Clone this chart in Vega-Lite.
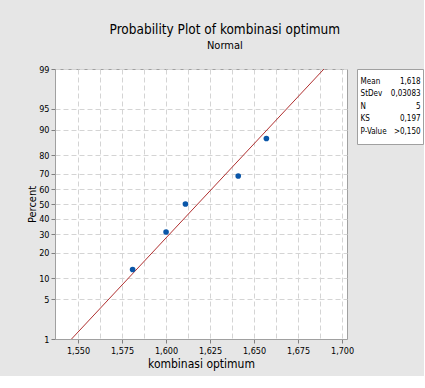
{
  "$schema": "https://vega.github.io/schema/vega-lite/v6.json",
  "background": "#e6e6e6",
  "padding": {"left": 26, "top": 23, "right": 0, "bottom": 6},
  "title": {
    "text": "Probability Plot of kombinasi optimum",
    "subtitle": "Normal",
    "font": "Liberation Sans Narrow, DejaVu Sans Condensed, sans-serif",
    "fontSize": 13.5,
    "fontWeight": "normal",
    "color": "#000000",
    "subtitleFont": "Liberation Sans Narrow, DejaVu Sans Condensed, sans-serif",
    "subtitleFontSize": 11,
    "subtitleColor": "#000000",
    "subtitlePadding": 3,
    "anchor": "middle",
    "offset": 14
  },
  "datasets": {
    "points": [
      {"x": 1.581, "percent": 12.96},
      {"x": 1.600, "percent": 31.48},
      {"x": 1.611, "percent": 50.0},
      {"x": 1.641, "percent": 68.52},
      {"x": 1.657, "percent": 87.04}
    ],
    "fit": [
      {"x": 1.5463, "percent": 1},
      {"x": 1.6897, "percent": 99}
    ],
    "stats": [
      {"order": 1, "stat": "Mean", "value": "1,618"},
      {"order": 2, "stat": "StDev", "value": "0,03083"},
      {"order": 3, "stat": "N", "value": "5"},
      {"order": 4, "stat": "KS", "value": "0,197"},
      {"order": 5, "stat": "P-Value", "value": ">0,150"}
    ]
  },
  "spacing": 1,
  "hconcat": [
    {
      "width": 292,
      "height": 270,
      "encoding": {
        "x": {
          "field": "x",
          "type": "quantitative",
          "scale": {"domain": [1.5369, 1.7028], "nice": false, "zero": false},
          "axis": {
            "title": "kombinasi optimum",
            "values": [1.55, 1.5625, 1.575, 1.5875, 1.6, 1.6125, 1.625, 1.6375, 1.65, 1.6625, 1.675, 1.6875, 1.7],
            "labelExpr": "abs(round(datum.value * 1000) % 25) < 0.5 ? replace(format(datum.value, '.3f'), '.', ',') : ''",
            "tickOpacity": {"condition": {"test": "abs(round(datum.value * 1000) % 25) < 0.5", "value": 1}, "value": 0},
            "tickSize": 4,
            "tickColor": "#808080",
            "domainColor": "#a0a0a0",
            "grid": true,
            "gridColor": "#d4d4d4",
            "gridDash": [5, 3],
            "labelFont": "Liberation Sans Narrow, DejaVu Sans Condensed, sans-serif",
            "labelFontSize": 9,
            "labelColor": "#000000",
            "labelPadding": 3,
            "titleFont": "Liberation Sans Narrow, DejaVu Sans Condensed, sans-serif",
            "titleFontSize": 12,
            "titleFontWeight": "normal",
            "titleColor": "#000000",
            "titlePadding": 3
          }
        },
        "y": {
          "field": "z",
          "type": "quantitative",
          "scale": {"domain": [-2.3263, 2.3263], "nice": false, "zero": false},
          "axis": {
            "title": "Percent",
            "values": [-2.3263, -1.6449, -1.2816, -0.8416, -0.5244, -0.2533, 0, 0.2533, 0.5244, 0.8416, 1.2816, 1.6449, 2.3263],
            "labelExpr": "format(cumulativeNormal(datum.value) * 100, '.0f')",
            "tickSize": 4,
            "tickColor": "#808080",
            "domainColor": "#a0a0a0",
            "grid": true,
            "gridColor": "#d4d4d4",
            "gridDash": [5, 3],
            "labelFont": "Liberation Sans Narrow, DejaVu Sans Condensed, sans-serif",
            "labelFontSize": 9,
            "labelColor": "#000000",
            "labelPadding": 2,
            "titleFont": "Liberation Sans Narrow, DejaVu Sans Condensed, sans-serif",
            "titleFontSize": 11,
            "titleFontWeight": "normal",
            "titleColor": "#000000",
            "titlePadding": 1
          }
        }
      },
      "layer": [
        {
          "data": {"name": "fit"},
          "transform": [{"calculate": "quantileNormal(datum.percent / 100)", "as": "z"}],
          "mark": {"type": "line", "color": "#b03030", "strokeWidth": 1, "clip": true}
        },
        {
          "data": {"name": "points"},
          "transform": [{"calculate": "quantileNormal(datum.percent / 100)", "as": "z"}],
          "mark": {"type": "point", "shape": "circle", "filled": true, "size": 32, "color": "#0a56a8", "opacity": 1}
        }
      ]
    },
    {
      "width": 66,
      "height": 75,
      "data": {"name": "stats"},
      "encoding": {
        "y": {
          "field": "stat",
          "type": "ordinal",
          "sort": {"field": "order"},
          "scale": {"type": "point", "padding": 1},
          "axis": null
        }
      },
      "layer": [
        {
          "mark": {"type": "text", "align": "left", "baseline": "middle", "font": "Liberation Sans Narrow, DejaVu Sans Condensed, sans-serif", "fontSize": 8, "color": "#000000"},
          "encoding": {
            "x": {"datum": 0, "type": "quantitative", "scale": {"domain": [-0.06, 1.04], "nice": false, "zero": false}, "axis": null},
            "text": {"field": "stat"}
          }
        },
        {
          "mark": {"type": "text", "align": "right", "baseline": "middle", "font": "Liberation Sans Narrow, DejaVu Sans Condensed, sans-serif", "fontSize": 8, "color": "#000000"},
          "encoding": {
            "x": {"datum": 1, "type": "quantitative"},
            "text": {"field": "value"}
          }
        }
      ]
    }
  ],
  "config": {
    "view": {"stroke": "#a0a0a0", "fill": "#ffffff"}
  }
}
